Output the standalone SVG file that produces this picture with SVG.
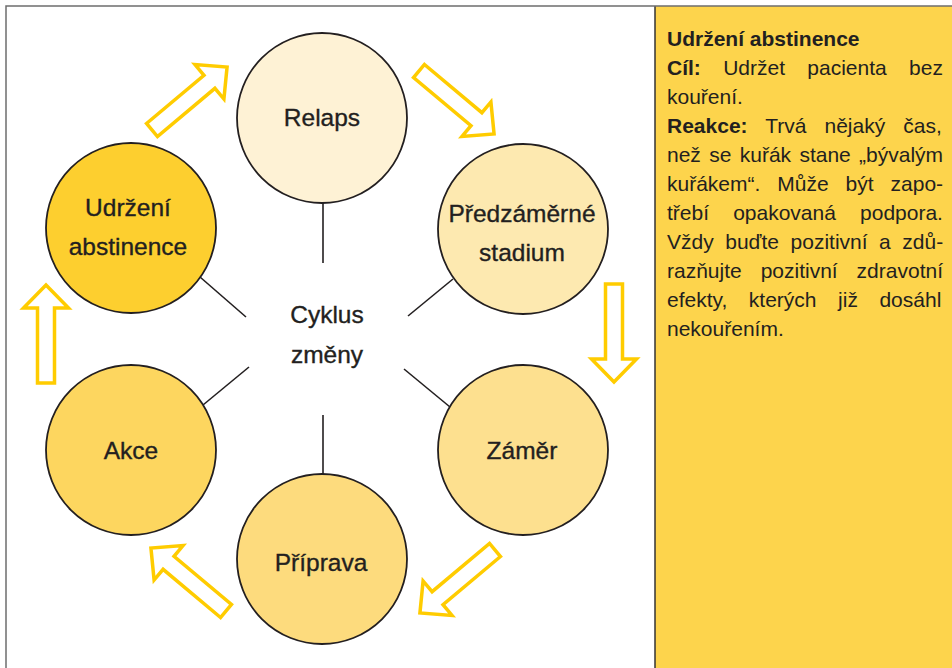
<svg xmlns="http://www.w3.org/2000/svg" width="952" height="668" viewBox="0 0 952 668">
  <style>
    .frame { fill: none; stroke: #6d6d6d; stroke-width: 1.5; }
    .stage { stroke: #231f20; stroke-width: 1.8; }
    .label { font-family: "Liberation Sans", Arial, Helvetica, sans-serif; font-size: 24.5px; fill: #231f20; stroke: #231f20; stroke-width: 0.35; text-anchor: middle; }
    .spoke { stroke: #231f20; stroke-width: 1.6; fill: none; }
    .flow { fill: #ffffff; stroke: #ffcc00; stroke-width: 3.5; stroke-linejoin: miter; }
    .note { font-family: "Liberation Sans", Arial, Helvetica, sans-serif; font-size: 21px; fill: #231f20; }
    .b { font-weight: bold; }
  </style>
  <defs>
    <!-- hollow block arrow pointing along +x, tail at the origin -->
    <polygon id="blockArrow" points="0,-8.5 75,-8.5 75,-22.5 98,0 75,22.5 75,8.5 0,8.5"/>
  </defs>

  <rect x="0" y="0" width="952" height="668" fill="#ffffff"/>

  <!-- side panel -->
  <rect x="655" y="6" width="297" height="662" fill="#fdd44c"/>
  <line x1="655" y1="6" x2="655" y2="668" stroke="#333333" stroke-width="1.5"/>
  <!-- outer frame -->
  <path class="frame" d="M6,668 V6 H952"/>

  <!-- connectors: spokes from the centre and cycle arrows -->
  <g id="connectors">
    <line class="spoke" x1="323" y1="203" x2="323" y2="263"/>
    <line class="spoke" x1="323" y1="415" x2="323" y2="474"/>
    <line class="spoke" x1="200" y1="277" x2="246" y2="317"/>
    <line class="spoke" x1="249" y1="367" x2="203" y2="405"/>
    <line class="spoke" x1="408" y1="316" x2="453" y2="279"/>
    <line class="spoke" x1="404" y1="369" x2="450" y2="407"/>

    <use href="#blockArrow" class="flow" transform="translate(152,130) rotate(-40)"/>
    <use href="#blockArrow" class="flow" transform="translate(419,71) rotate(40)"/>
    <use href="#blockArrow" class="flow" transform="translate(614,284) rotate(90)"/>
    <use href="#blockArrow" class="flow" transform="translate(495,550) rotate(140)"/>
    <use href="#blockArrow" class="flow" transform="translate(226,611) rotate(-140)"/>
    <use href="#blockArrow" class="flow" transform="translate(46,383) rotate(-90)"/>
  </g>

  <g id="centre">
    <text class="label" x="327" y="323">Cyklus</text>
    <text class="label" x="327" y="363">změny</text>
  </g>

  <g id="relaps">
    <circle class="stage" cx="322" cy="118" r="85" fill="#fef2d5"/>
    <text class="label" x="322" y="126">Relaps</text>
  </g>

  <g id="predzamerne">
    <circle class="stage" cx="523" cy="229" r="85" fill="#fde9b0"/>
    <text class="label" x="522" y="222">Předzáměrné</text>
    <text class="label" x="522" y="261">stadium</text>
  </g>

  <g id="zamer">
    <circle class="stage" cx="523" cy="450" r="85" fill="#fde08f"/>
    <text class="label" x="522" y="459">Záměr</text>
  </g>

  <g id="priprava">
    <circle class="stage" cx="322" cy="559" r="85" fill="#fddb7d"/>
    <text class="label" x="321" y="571">Příprava</text>
  </g>

  <g id="akce">
    <circle class="stage" cx="131" cy="450" r="85" fill="#fdd65f"/>
    <text class="label" x="131" y="459">Akce</text>
  </g>

  <g id="udrzeni">
    <circle class="stage" cx="131" cy="228" r="85" fill="#fdcf2f"/>
    <text class="label" x="128" y="216">Udržení</text>
    <text class="label" x="128" y="255">abstinence</text>
  </g>

  <!-- description of the highlighted stage, justified by hand -->
  <g id="description" class="note">
    <text x="667" y="46" class="b">Udržení abstinence</text>
    <text x="667" y="75" word-spacing="16.5"><tspan class="b">Cíl:</tspan> Udržet pacienta bez</text>
    <text x="667" y="104">kouření.</text>
    <text x="667" y="133" word-spacing="12.2"><tspan class="b">Reakce:</tspan> Trvá nějaký čas,</text>
    <text x="667" y="162" word-spacing="2.5">než se kuřák stane „bývalým</text>
    <text x="667" y="191" word-spacing="11.1">kuřákem“. Může být zapo-</text>
    <text x="667" y="220" word-spacing="18.3">třebí opakovaná podpora.</text>
    <text x="667" y="249" word-spacing="5.7">Vždy buďte pozitivní a zdů-</text>
    <text x="667" y="278" word-spacing="13.1">razňujte pozitivní zdravotní</text>
    <text x="667" y="307" word-spacing="15.7">efekty, kterých již dosáhl</text>
    <text x="667" y="336">nekouřením.</text>
  </g>
</svg>
